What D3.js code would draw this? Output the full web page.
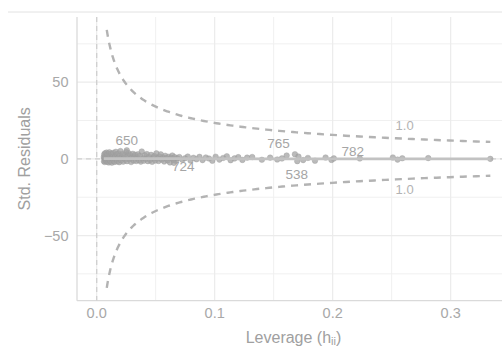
<!DOCTYPE html>
<html>
<head>
<meta charset="utf-8">
<script src="https://cdn.jsdelivr.net/npm/d3@7"></script>
<style>
  html, body { margin: 0; padding: 0; background: #ffffff; }
  svg { display: block; font-family: "Liberation Sans", Arial, sans-serif; }
</style>
</head>
<body>
<svg id="chart" width="502" height="347"></svg>
<script>
// Leverage of each observation and its standardized residual
const leverage = [
  0.0060,0.0062,0.0064,0.0066,0.0068,0.0071,0.0073,0.0075,0.0078,0.0080,
  0.0083,0.0085,0.0088,0.0091,0.0093,0.0096,0.0099,0.0102,0.0105,0.0108,
  0.0111,0.0115,0.0118,0.0122,0.0126,0.0129,0.0133,0.0137,0.0141,0.0145,
  0.0149,0.0153,0.0158,0.0162,0.0167,0.0171,0.0176,0.0181,0.0186,0.0191,
  0.0196,0.0201,0.0207,0.0213,0.0219,0.0225,0.0231,0.0237,0.0244,0.0250,
  0.0257,0.0264,0.0271,0.0278,0.0285,0.0292,0.0299,0.0306,0.0313,0.0320,
  0.0327,0.0335,0.0342,0.0350,0.0358,0.0366,0.0374,0.0382,0.0391,0.0399,
  0.0408,0.0416,0.0425,0.0434,0.0443,0.0452,0.0461,0.0470,0.0479,0.0488,
  0.0497,0.0506,0.0515,0.0524,0.0534,0.0543,0.0553,0.0562,0.0572,0.0581,
  0.0591,0.0601,0.0611,0.0621,0.0631,0.0641,0.0651,0.0661,0.0672,0.0683,
  0.0700,0.0725,0.0748,0.0772,0.0795,0.0820,0.0846,0.0871,0.0897,0.0925,
  0.0952,0.0980,0.1008,0.1040,0.1072,0.1103,0.1135,0.1168,0.1200,0.1235,
  0.1275,0.1318,0.1400,0.1470,0.1530,0.1570,0.1680,0.1710,0.1750,0.1790,
  0.1850,0.1940,0.1990,0.2230,0.2510,0.2550,0.2590,0.2810,0.3336
];
const stdResidual = [
  1.2,-1.6,2.9,0.4,-2.1,3.6,0.9,-0.7,2.2,-1.3,
  4.1,0.1,-1.9,1.7,3.2,-0.5,0.8,-2.3,2.6,4.3,
  -0.9,1.9,-1.7,3.4,0.6,-2.5,2.8,1.3,3.9,-1.2,
  0.3,-2.0,1.5,4.6,-0.4,2.9,-1.6,0.7,3.5,-2.2,
  2.0,5.1,-1.0,1.1,3.1,-1.8,0.5,2.4,-0.6,4.4,
  -1.5,1.8,3.7,-0.2,2.5,-2.1,0.9,3.3,-1.1,1.6,
  2.7,-1.4,0.8,3.0,-0.9,1.9,-1.8,4.8,0.4,-1.2,
  2.3,0.0,3.1,-1.5,1.2,-0.7,2.6,-1.9,0.6,1.8,
  -1.1,3.6,0.3,-1.4,1.5,2.9,-0.6,0.9,-1.7,2.0,
  0.5,-1.0,1.4,-2.3,0.7,2.2,-0.8,1.1,-1.3,0.4,
  1.2,-0.6,0.4,1.5,-1.1,0.7,-0.3,1.3,-0.8,0.9,
  0.2,-1.2,1.4,-0.5,0.6,1.7,-0.9,0.3,1.1,-0.7,
  0.8,1.2,-0.6,0.8,-0.4,0.3,3.0,1.5,-0.8,0.6,
  -1.2,0.9,-0.7,0.3,0.9,-0.5,0.4,0.5,0.0
];

// Observations flagged by id, with where their id label sits
const flaggedIds = ["650", "724", "765", "538", "782"];
const flaggedLeverage = [0.0255, 0.0655, 0.1610, 0.1700, 0.2010];
const flaggedResidual = [5.6, -2.6, 2.2, -1.5, 0.3];
const flaggedLabelLeverage = [0.0254, 0.0733, 0.1540, 0.1695, 0.2170];
const flaggedLabelResidual = [12.4, -4.7, 10.6, -9.7, 5.1];

// Smoothed trend of the residuals over leverage
const smoothLeverage = [0.0060, 0.0300, 0.0700, 0.1500, 0.2500, 0.3336];
const smoothResidual = [0.2, 0.2, 0.1, 0.0, 0.0, 0.0];

// Cook's distance contour
const cookLevels = [1.0];
const cookLabels = ["1.0"];
const nParams = 61;
const contourRange = [0.00855, 0.3336];

// Axis ticks
const xTicks = [0.0, 0.1, 0.2, 0.3];
const xMinor = [0.05, 0.15, 0.25];
const yTicks = [-50, 0, 50];
const yMinor = [-75, -25, 25, 75];

const svg = d3.select("#chart");
const panel = { left: 77, right: 510, top: 17, bottom: 300.7 };

const x = d3.scaleLinear().domain([-0.01668, 0.35028]).range([panel.left, panel.right]);
const y = d3.scaleLinear().domain([-92.5, 92.5]).range([panel.bottom, panel.top]);

// frame line across the top
svg.append("line")
  .attr("x1", 8).attr("x2", 502).attr("y1", 12).attr("y2", 12)
  .attr("stroke", "#e2e2e2").attr("stroke-width", 1);

svg.append("defs").append("clipPath").attr("id", "panel-clip")
  .append("rect")
  .attr("x", panel.left).attr("y", panel.top)
  .attr("width", panel.right - panel.left).attr("height", panel.bottom - panel.top);

// grid
const grid = svg.append("g");
grid.selectAll(".gx-minor").data(xMinor).join("line")
  .attr("x1", d => x(d)).attr("x2", d => x(d))
  .attr("y1", panel.top).attr("y2", panel.bottom)
  .attr("stroke", "#f0f0f0").attr("stroke-width", 1);
grid.selectAll(".gy-minor").data(yMinor).join("line")
  .attr("y1", d => y(d)).attr("y2", d => y(d))
  .attr("x1", panel.left).attr("x2", panel.right)
  .attr("stroke", "#f0f0f0").attr("stroke-width", 1);
grid.selectAll(".gx").data(xTicks).join("line")
  .attr("x1", d => x(d)).attr("x2", d => x(d))
  .attr("y1", panel.top).attr("y2", panel.bottom)
  .attr("stroke", "#ebebeb").attr("stroke-width", 1.2);
grid.selectAll(".gy").data(yTicks).join("line")
  .attr("y1", d => y(d)).attr("y2", d => y(d))
  .attr("x1", panel.left).attr("x2", panel.right)
  .attr("stroke", "#ebebeb").attr("stroke-width", 1.2);

// axis lines
svg.append("line")
  .attr("x1", panel.left).attr("x2", panel.left)
  .attr("y1", panel.top).attr("y2", panel.bottom)
  .attr("stroke", "#dadada").attr("stroke-width", 1.3);
svg.append("line")
  .attr("x1", panel.left).attr("x2", panel.right)
  .attr("y1", panel.bottom).attr("y2", panel.bottom)
  .attr("stroke", "#dadada").attr("stroke-width", 1.3);

const plot = svg.append("g").attr("clip-path", "url(#panel-clip)");

// reference lines at zero
plot.append("line")
  .attr("x1", panel.left).attr("x2", panel.right)
  .attr("y1", y(0)).attr("y2", y(0))
  .attr("stroke", "#cfcfcf").attr("stroke-width", 1.3)
  .attr("stroke-dasharray", "5,4");
plot.append("line")
  .attr("x1", x(0)).attr("x2", x(0))
  .attr("y1", panel.top).attr("y2", panel.bottom)
  .attr("stroke", "#cfcfcf").attr("stroke-width", 1.3)
  .attr("stroke-dasharray", "5,4");

// Cook's distance contours, above and below zero
const contourH = d3.range(0, 201).map(i =>
  contourRange[0] * Math.pow(contourRange[1] / contourRange[0], i / 200));
const contourLine = d3.line().x(d => x(d[0])).y(d => y(d[1]));
cookLevels.forEach((level, k) => {
  [1, -1].forEach(sign => {
    const pts = contourH.map(h => [h, sign * Math.sqrt(level * nParams * (1 - h) / h)]);
    plot.append("path")
      .attr("d", contourLine(pts))
      .attr("fill", "none")
      .attr("stroke", "#b3b3b3")
      .attr("stroke-width", 2.4)
      .attr("stroke-dasharray", "7,6");
    const hLab = 0.261;
    const v = sign * Math.sqrt(level * nParams * (1 - hLab) / hLab);
    svg.append("text")
      .attr("x", x(hLab))
      .attr("y", y(v) + (sign > 0 ? -9 : 14.5))
      .attr("text-anchor", "middle")
      .attr("font-size", 13)
      .attr("fill", "#b3b3b3")
      .text(cookLabels[k]);
  });
});

// observations
const points = leverage.map((h, i) => [h, stdResidual[i]])
  .concat(flaggedLeverage.map((h, i) => [h, flaggedResidual[i]]));
plot.selectAll("circle.obs").data(points).join("circle")
  .attr("class", "obs")
  .attr("cx", d => x(d[0]))
  .attr("cy", d => y(d[1]))
  .attr("r", 2.8)
  .attr("fill", "#a3a3a3")
  .attr("fill-opacity", 0.75)
  .attr("stroke", "#999999")
  .attr("stroke-opacity", 0.6)
  .attr("stroke-width", 0.6);

// smoothed trend
plot.append("path")
  .attr("d", d3.line().curve(d3.curveMonotoneX)
    .x((d, i) => x(smoothLeverage[i])).y((d, i) => y(smoothResidual[i]))(smoothLeverage))
  .attr("fill", "none")
  .attr("stroke", "#c2c2c2")
  .attr("stroke-width", 2.8);

// ids of flagged observations
svg.selectAll("text.flag").data(flaggedIds).join("text")
  .attr("class", "flag")
  .attr("x", (d, i) => x(flaggedLabelLeverage[i]))
  .attr("y", (d, i) => y(flaggedLabelResidual[i]) + 5)
  .attr("text-anchor", "middle")
  .attr("font-size", 13.5)
  .attr("fill", "#a5a5a5")
  .text(d => d);

// tick labels
svg.selectAll("text.xt").data(xTicks).join("text")
  .attr("class", "xt")
  .attr("x", d => x(d)).attr("y", 318)
  .attr("text-anchor", "middle")
  .attr("font-size", 14.5)
  .attr("fill", "#a8a8a8")
  .text(d => d3.format(".1f")(d));
svg.selectAll("text.yt").data(yTicks).join("text")
  .attr("class", "yt")
  .attr("x", 68.5).attr("y", d => y(d) + 5)
  .attr("text-anchor", "end")
  .attr("font-size", 14.5)
  .attr("fill", "#a8a8a8")
  .text(d => d < 0 ? "\u2212" + Math.abs(d) : d);

// axis titles
const xTitle = svg.append("text")
  .attr("x", (panel.left + panel.right) / 2).attr("y", 342.5)
  .attr("text-anchor", "middle")
  .attr("font-size", 16)
  .attr("fill", "#a0a0a0");
xTitle.append("tspan").text("Leverage (h");
xTitle.append("tspan").attr("font-size", 11).attr("dy", 2.5).text("ii");
xTitle.append("tspan").attr("dy", -2.5).text(")");

svg.append("text")
  .attr("transform", `translate(30,${(panel.top + panel.bottom) / 2}) rotate(-90)`)
  .attr("text-anchor", "middle")
  .attr("font-size", 16)
  .attr("fill", "#a0a0a0")
  .text("Std. Residuals");
</script>
</body>
</html>
